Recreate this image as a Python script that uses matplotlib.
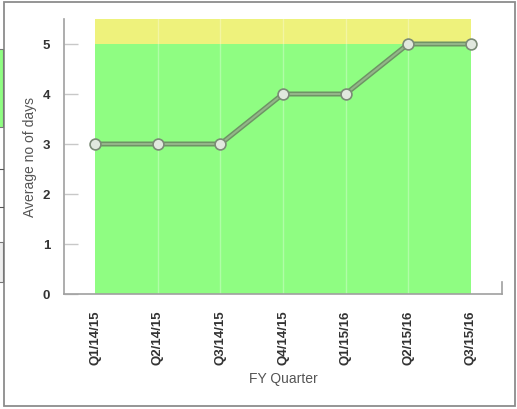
import matplotlib
matplotlib.use("Agg")
import matplotlib.pyplot as plt
from matplotlib.patches import Rectangle
from matplotlib.lines import Line2D

quarters = ["Q1/14/15", "Q2/14/15", "Q3/14/15", "Q4/14/15",
            "Q1/15/16", "Q2/15/16", "Q3/15/16"]
avg_days = [3, 3, 3, 4, 4, 5, 5]
y_ticks = [0, 1, 2, 3, 4, 5]
green_band = (0, 5)
yellow_band = (5, 5.5)

W, H = 517, 410
plt.rcParams["font.family"] = ["Liberation Sans", "DejaVu Sans"]

fig = plt.figure(figsize=(W / 100, H / 100), dpi=100)
fig.patch.set_facecolor("white")


def px(x, y, w, h):
    """Figure-fraction rectangle from pixel box (top-left origin)."""
    return (x / W, 1 - (y + h) / H, w / W, h / H)


# outer panel border
fig.patches.append(Rectangle(px(4, 3, 511, 404)[:2], 511 / W, 404 / H,
                             transform=fig.transFigure, fill=False,
                             edgecolor="#8c8c8c", linewidth=1.3))
# edge of the neighbouring panel on the left
fig.patches.append(Rectangle(px(-2, 50, 5, 78)[:2], 5 / W, 78 / H,
                             transform=fig.transFigure, facecolor="#8ffd82",
                             edgecolor="#777777", linewidth=0.8))
fig.patches.append(Rectangle(px(-2, 243, 5, 40)[:2], 5 / W, 40 / H,
                             transform=fig.transFigure, facecolor="#eeeeee",
                             edgecolor="#777777", linewidth=0.8))
for yy in (170, 208):
    fig.lines.append(Line2D([0, 3 / W], [1 - yy / H] * 2,
                            transform=fig.transFigure, color="#555555", lw=0.8))

left, right, top, bottom = 64, 502, 20, 295
ax = fig.add_axes([left / W, 1 - bottom / H, (right - left) / W, (bottom - top) / H])
ax.set_facecolor("white")

x = list(range(len(quarters)))
ax.set_xlim(-0.5, len(quarters) - 0.5)
ax.set_ylim(0, 5.5)

# target bands
ax.fill_between([x[0], x[-1]], *green_band, color="#8ffd82", lw=0, zorder=1)
ax.fill_between([x[0], x[-1]], *yellow_band, color="#eef27c", lw=0, zorder=1)
for xi in x[1:-1]:
    ax.axvline(xi, color="white", alpha=0.3, lw=1, zorder=1.5)

# series line with markers
ax.plot(x, avg_days, color="#6e9265", lw=3.6, zorder=3, solid_capstyle="round")
ax.plot(x, avg_days, color="#93b588", lw=1.5, zorder=3.5)
ax.plot(x, avg_days, ls="none", marker="o", ms=7.8, mfc="#e1e8de",
        mec="#7b8b76", mew=1.2, zorder=4)

for s in ("top", "right"):
    ax.spines[s].set_visible(False)
for s in ("left", "bottom"):
    ax.spines[s].set_color("#a0a0a0")
    ax.spines[s].set_linewidth(1.2)
# small end cap on the x axis
ax.plot([1, 1], [0, 0.045], transform=ax.transAxes, color="#a0a0a0",
        lw=1.2, clip_on=False)

ax.set_yticks(y_ticks)
ax.tick_params(axis="y", direction="in", length=10, width=1, color="#c8c8c8",
               pad=10, labelsize=9.5, labelcolor="#333333")
for lab in ax.get_yticklabels():
    lab.set_fontweight("bold")

ax.set_xticks(x)
ax.set_xticklabels(quarters, rotation=90, fontsize=9.5, fontweight="bold",
                   color="#333333")
ax.tick_params(axis="x", length=0, pad=11)

ax.set_ylabel("Average no of days", fontsize=10, color="#555555", labelpad=4)
ax.set_xlabel("FY Quarter", fontsize=10, color="#555555", labelpad=5)

fig.savefig("out.png", dpi=100)
